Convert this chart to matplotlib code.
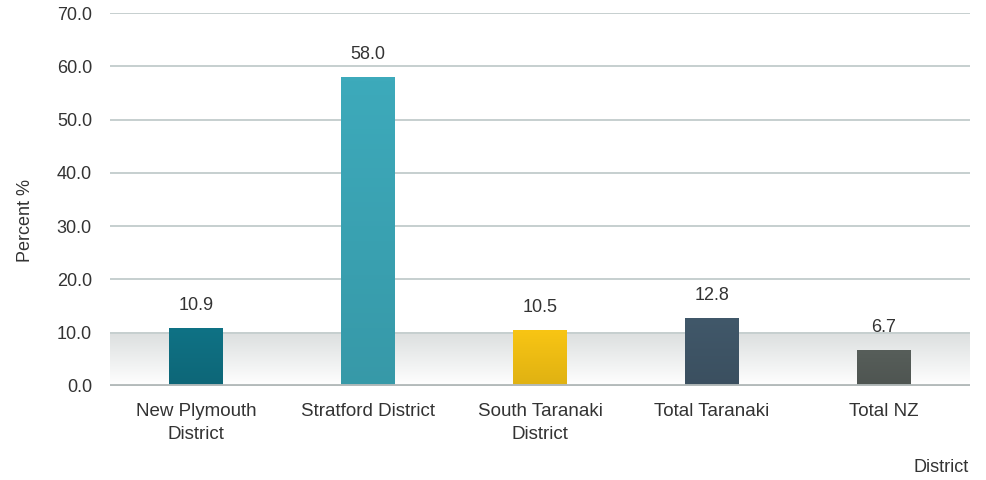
import numpy as np
import matplotlib
matplotlib.use("Agg")
import matplotlib.pyplot as plt
from matplotlib.colors import to_rgb

districts = ["New Plymouth\nDistrict", "Stratford District", "South Taranaki\nDistrict",
             "Total Taranaki", "Total NZ"]
percent = [10.9, 58.0, 10.5, 12.8, 6.7]
bar_colors = ["#0f7285", "#3daabb", "#f8c514", "#41586a", "#575e5a"]
y_ticks = [0, 10, 20, 30, 40, 50, 60, 70]

plt.rcParams["font.family"] = ["Liberation Sans", "DejaVu Sans"]
text_color = "#333333"

fig = plt.figure(figsize=(9.86, 4.8), dpi=100)
ax = fig.add_axes([110 / 986, 94 / 480, 860 / 986, 373 / 480])

x = np.arange(len(districts))
ax.set_xlim(-0.5, len(districts) - 0.5)
ax.set_ylim(0, 70)

# soft grey band between 0 and 10
band = np.linspace(1, 0, 64).reshape(-1, 1)
ax.imshow(band, cmap=matplotlib.colors.LinearSegmentedColormap.from_list(
    "band", ["#ffffff", "#dcdfdf"]), extent=(-0.5, len(districts) - 0.5, 0, 10),
    aspect="auto", origin="upper", zorder=0.5)

for t in y_ticks[1:]:
    ax.axhline(t, color="#c6cfcf", lw=1.4, zorder=1)
ax.axhline(0, color="#b3baba", lw=3.5, zorder=3)

bars = ax.bar(x, percent, width=0.31, color=bar_colors, zorder=2)
for b, c in zip(bars, bar_colors):
    top = np.array(to_rgb(c))
    bottom = top * 0.9
    grad = np.linspace(0, 1, 64)[:, None, None] * (bottom - top) + top
    im = ax.imshow(grad, extent=(b.get_x(), b.get_x() + b.get_width(), 0, b.get_height()),
                   aspect="auto", origin="upper", zorder=2.1)
    im.set_clip_path(b)

for xi, v in zip(x, percent):
    ax.annotate(f"{v:.1f}", (xi, v), xytext=(0, 10), textcoords="offset points",
                ha="center", va="bottom", fontsize=13, color=text_color)

ax.set_xticks(x)
ax.set_xticklabels(districts, fontsize=13.5, color=text_color, linespacing=1.45)
ax.set_yticks(y_ticks)
ax.set_yticklabels([f"{t:.1f}" for t in y_ticks], fontsize=13, color=text_color)
ax.tick_params(length=0)
ax.tick_params(axis="x", pad=12)
ax.tick_params(axis="y", pad=13)
for s in ax.spines.values():
    s.set_visible(False)

fig.text(25 / 986, 1 - 221 / 480, "Percent %", rotation=90, ha="center", va="center",
         fontsize=13, color=text_color)
fig.text(969 / 986, 1 - 468 / 480, "District", ha="right", va="center",
         fontsize=13, color=text_color)

fig.savefig("out.png", dpi=100)
